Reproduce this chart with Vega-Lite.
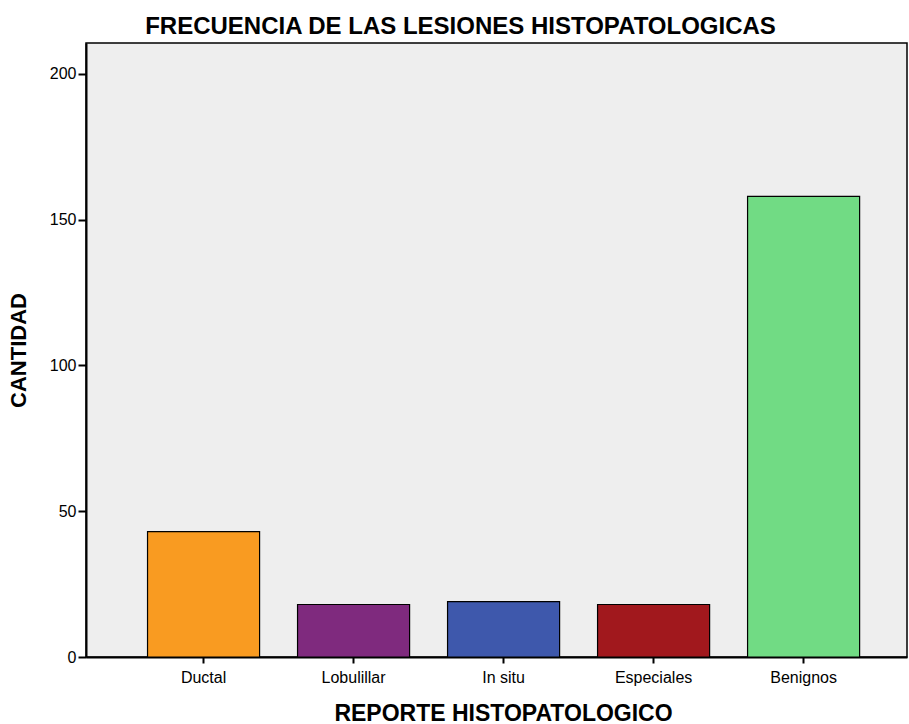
{
  "$schema": "https://vega.github.io/schema/vega-lite/v6.json",
  "autosize": "none",
  "width": 821,
  "height": 614,
  "padding": {"left": 86, "top": 43, "right": 2, "bottom": 67},
  "background": "#ffffff",
  "title": {
    "text": "FRECUENCIA DE LAS LESIONES HISTOPATOLOGICAS",
    "font": "Liberation Sans",
    "fontSize": 24,
    "fontWeight": "bold",
    "color": "#000000",
    "anchor": "middle",
    "dx": -36,
    "offset": 4
  },
  "config": {
    "view": {"fill": "#eeeeee", "stroke": "#000000", "strokeWidth": 1.5},
    "axis": {"labelFont": "Liberation Sans", "titleFont": "Liberation Sans", "labelColor": "#000000", "titleColor": "#000000"}
  },
  "data": {
    "values": [
      {"reporte": "Ductal", "cantidad": 43},
      {"reporte": "Lobulillar", "cantidad": 18},
      {"reporte": "In situ", "cantidad": 19},
      {"reporte": "Especiales", "cantidad": 18},
      {"reporte": "Benignos", "cantidad": 158}
    ]
  },
  "mark": {"type": "bar", "stroke": "#000000", "strokeWidth": 1.2},
  "encoding": {
    "x": {
      "field": "reporte",
      "type": "nominal",
      "sort": ["Ductal", "Lobulillar", "In situ", "Especiales", "Benignos"],
      "scale": {"paddingInner": 0.253, "paddingOuter": 0.363, "align": 0.565},
      "axis": {
        "title": "REPORTE HISTOPATOLOGICO",
        "titleFontSize": 23,
        "titleFontWeight": "bold",
        "titlePadding": 17,
        "titleX": 417,
        "labelAngle": 0,
        "labelFontSize": 16,
        "labelPadding": 6,
        "tickSize": 6,
        "tickWidth": 2,
        "tickColor": "#000000",
        "domainColor": "#000000",
        "domainWidth": 2,
        "grid": false
      }
    },
    "y": {
      "field": "cantidad",
      "type": "quantitative",
      "scale": {"domain": [0, 210.6], "nice": false},
      "axis": {
        "title": "CANTIDAD",
        "titleFontSize": 22,
        "titleFontWeight": "bold",
        "titlePadding": 19,
        "values": [0, 50, 100, 150, 200],
        "labelFontSize": 16,
        "labelPadding": 2,
        "tickSize": 8,
        "tickWidth": 2,
        "tickColor": "#000000",
        "domainColor": "#000000",
        "domainWidth": 2,
        "grid": false
      }
    },
    "color": {
      "field": "reporte",
      "type": "nominal",
      "scale": {
        "domain": ["Ductal", "Lobulillar", "In situ", "Especiales", "Benignos"],
        "range": ["#f99b21", "#7f2a7e", "#3e58ac", "#a1181d", "#71db84"]
      },
      "legend": null
    }
  }
}
